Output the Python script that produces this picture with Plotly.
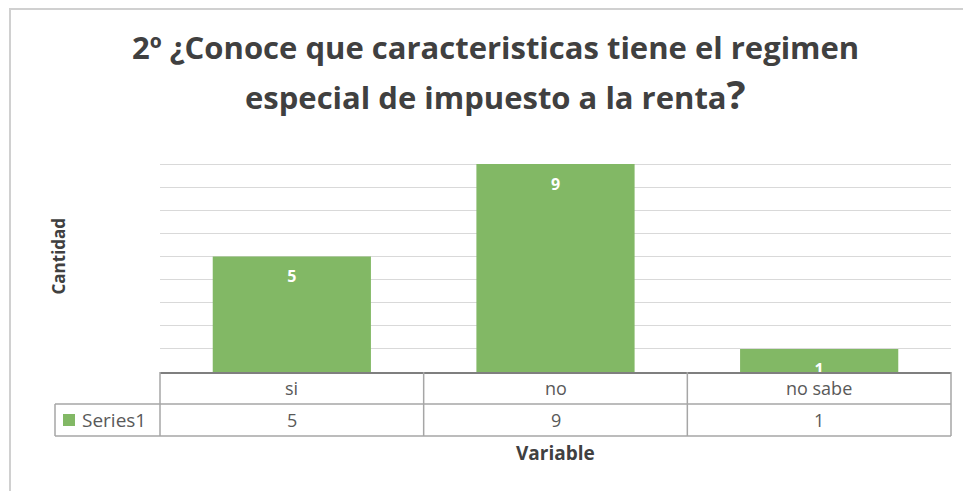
import plotly.graph_objects as go

# ---- data ----
categories = ["si", "no", "no sabe"]
values = [5, 9, 1]
series_name = "Series1"
title_line1 = "2º ¿Conoce que caracteristicas tiene el regimen"
title_line2 = "especial de impuesto a la renta"
x_title = "Variable"
y_title = "Cantidad"
y_max = 10

# ---- layout constants (pixels, screen coords; page body has 8px margin) ----
OFF = 8
SW, SH = 971, 491
W, H = SW - OFF, SH - OFF
PL, PR, PT, PB = 160, 951, 141, 372  # plot area in screen pixels
L, R, T, B = PL - OFF, SW - PR, PT - OFF, SH - PB
PW, PH = PR - PL, PB - PT

def px_x(p):
    return (p - PL) / PW

def px_y(p):
    return (PB - p) / PH

GREEN = "#82B865"
GRID = "#D9D9D9"
TBL = "#A6A6A6"
TXT = "#595959"
DARK = "#404040"
FONT = "Open Sans"
LABEL_DROP = 0.95  # label offset below bar top, in axis units

fig = go.Figure()
fig.add_trace(go.Bar(x=categories, y=values, marker=dict(color=GREEN, line=dict(width=0)),
                     width=0.6, name=series_name, showlegend=False, hoverinfo="skip"))
fig.add_trace(go.Scatter(x=categories, y=[v - LABEL_DROP for v in values], mode="text",
                         text=[str(v) for v in values], textposition="middle center",
                         textfont=dict(family=FONT, size=16, color="white", weight="bold"),
                         cliponaxis=True, showlegend=False, hoverinfo="skip"))

shapes = []
# outer chart border
shapes.append(dict(type="rect", xref="paper", yref="paper", x0=px_x(10), x1=px_x(1100),
                   y0=px_y(9), y1=px_y(700), line=dict(color="#D0D0D0", width=2), layer="below"))
n = len(categories)
y_top, y_mid, y_bot = px_y(372), px_y(404), px_y(436)
# horizontal table lines
shapes.append(dict(type="line", xref="paper", yref="paper", x0=px_x(55), x1=1, y0=y_mid, y1=y_mid,
                   line=dict(color=TBL, width=1.5)))
shapes.append(dict(type="line", xref="paper", yref="paper", x0=px_x(55), x1=1, y0=y_bot, y1=y_bot,
                   line=dict(color=TBL, width=1.5)))
# vertical table lines at category boundaries
for i in range(n + 1):
    xp = i / n
    shapes.append(dict(type="line", xref="paper", yref="paper", x0=xp, x1=xp, y0=y_top, y1=y_bot,
                       line=dict(color=TBL, width=1.5)))
shapes.append(dict(type="line", xref="paper", yref="paper", x0=px_x(55), x1=px_x(55), y0=y_mid, y1=y_bot,
                   line=dict(color=TBL, width=1.5)))
# legend key square
shapes.append(dict(type="rect", xref="paper", yref="paper", x0=px_x(63), x1=px_x(75),
                   y0=px_y(426), y1=px_y(414), fillcolor=GREEN, line=dict(width=0)))

annotations = []
for c, v in zip(categories, values):
    annotations.append(dict(x=c, xref="x", y=(y_top + y_mid) / 2, yref="paper", text=c,
                            showarrow=False, font=dict(family=FONT, size=18, color=TXT),
                            xanchor="center", yanchor="middle"))
    annotations.append(dict(x=c, xref="x", y=(y_mid + y_bot) / 2, yref="paper", text=str(v),
                            showarrow=False, font=dict(family=FONT, size=18, color=TXT),
                            xanchor="center", yanchor="middle"))
annotations.append(dict(x=px_x(80), xref="paper", y=(y_mid + y_bot) / 2, yref="paper", text=series_name,
                        showarrow=False, font=dict(family=FONT, size=19, color=TXT),
                        xanchor="left", yanchor="middle"))
annotations.append(dict(x=0.5, xref="paper", y=px_y(453), yref="paper", text=f"<b>{x_title}</b>",
                        showarrow=False, font=dict(family=FONT, size=19, color=DARK),
                        xanchor="center", yanchor="middle"))
annotations.append(dict(x=px_x(58), xref="paper", y=0.5, yref="paper", text=f"<b>{y_title}</b>",
                        showarrow=False, font=dict(family=FONT, size=17, color=DARK), textangle=-90,
                        xanchor="center", yanchor="middle"))
annotations.append(dict(x=px_x(495), xref="paper", y=px_y(47), yref="paper", text=title_line1,
                        showarrow=False, font=dict(family=FONT, size=31, color=DARK, weight=700),
                        xanchor="center", yanchor="middle"))
annotations.append(dict(x=px_x(495), xref="paper", y=px_y(94), yref="paper",
                        text=title_line2 + "<span style='font-size:40px'>?</span>",
                        showarrow=False, font=dict(family=FONT, size=31, color=DARK, weight=700),
                        xanchor="center", yanchor="middle"))

fig.update_layout(
    width=W, height=H, margin=dict(l=L, r=R, t=T, b=B, pad=0),
    paper_bgcolor="white", plot_bgcolor="white",
    bargap=0.4, shapes=shapes, annotations=annotations, showlegend=False,
    xaxis=dict(type="category", range=[-0.5, n - 0.5], showticklabels=False, ticks="",
               showgrid=False, showline=True, linecolor="#7F7F7F", linewidth=2, zeroline=False,
               fixedrange=True),
    yaxis=dict(range=[0, y_max], dtick=1, showticklabels=False, ticks="", showgrid=True,
               gridcolor=GRID, gridwidth=1, zeroline=False, showline=False, fixedrange=True),
)
fig.write_html("out.html")
